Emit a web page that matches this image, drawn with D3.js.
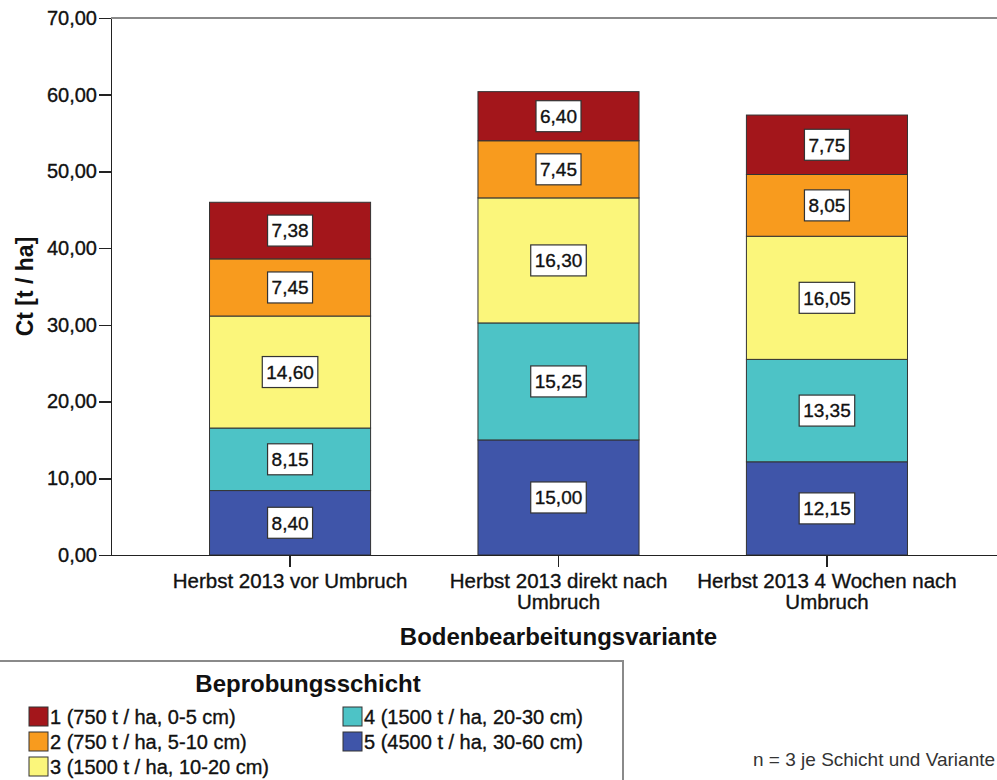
<!DOCTYPE html>
<html lang="de">
<head>
<meta charset="UTF-8">
<title>Ct je Beprobungsschicht</title>
<script src="https://d3js.org/d3.v7.min.js"></script>
<style>
    body { margin: 0; background: #fff; }
    svg { display: block; font-family: Arial, "Liberation Sans", sans-serif; }
    .axis path, .axis line { stroke: #222; stroke-width: 1.5; shape-rendering: crispEdges; }
    .axis text { fill: #111; }
    .heavy { stroke: #111; stroke-width: 0.35px; }
</style>
</head>
<body>
<script>
// categories (x axis)
const categories = ["Herbst 2013 vor Umbruch", "Herbst 2013 direkt nach Umbruch", "Herbst 2013 4 Wochen nach Umbruch"];

// layer names (legend) and values per category
const layerKeys = ["1", "2", "3", "4", "5"];
const layerNames = ["1 (750 t / ha, 0-5 cm)", "2 (750 t / ha, 5-10 cm)", "3 (1500 t / ha, 10-20 cm)",
                    "4 (1500 t / ha, 20-30 cm)", "5 (4500 t / ha, 30-60 cm)"];
const layer1 = [7.38, 6.40, 7.75];
const layer2 = [7.45, 7.45, 8.05];
const layer3 = [14.60, 16.30, 16.05];
const layer4 = [8.15, 15.25, 13.35];
const layer5 = [8.40, 15.00, 12.15];
const layerColors = ["#a3161b", "#f89b1e", "#fbf67b", "#4dc3c6", "#3f55a9"];

const yTicks = [0, 10, 20, 30, 40, 50, 60, 70];

// build table
const layerValues = [layer1, layer2, layer3, layer4, layer5];
const table = categories.map((c, i) => {
    const row = {cat: c};
    layerKeys.forEach((k, j) => row[k] = layerValues[j][i]);
    return row;
});

const W = 997, H = 780;
const plot = {left: 111, top: 18, right: 1006, bottom: 555};

const de = d3.formatLocale({decimal: ",", thousands: ".", grouping: [3], currency: ["", " €"]});
const fmt = de.format(".2f");

const svg = d3.select("body").append("svg")
    .attr("width", W)
    .attr("height", H);

const x = d3.scaleBand()
    .domain(categories)
    .range([plot.left, plot.right])
    .paddingInner(0.4)
    .paddingOuter(0.367);

const y = d3.scaleLinear()
    .domain([0, 70])
    .range([plot.bottom, plot.top]);

const color = d3.scaleOrdinal().domain(layerKeys).range(layerColors);

// frame (top / right)
svg.append("path")
    .attr("d", `M${plot.left},${plot.top}H${plot.right}V${plot.bottom}`)
    .attr("fill", "none")
    .attr("stroke", "#8a8a8a")
    .attr("stroke-width", 2);

// stacked bars, layer 5 at the bottom
const stack = d3.stack().keys(layerKeys.slice().reverse());
const series = stack(table);

const groups = svg.append("g").selectAll("g")
    .data(series)
    .join("g")
    .attr("fill", d => color(d.key));

groups.selectAll("rect")
    .data(d => d)
    .join("rect")
    .attr("x", d => x(d.data.cat))
    .attr("width", x.bandwidth())
    .attr("y", d => y(d[1]))
    .attr("height", d => y(d[0]) - y(d[1]))
    .attr("stroke", "#333")
    .attr("stroke-width", 1);

// value labels, box sized to text
const labels = svg.append("g").selectAll("g")
    .data(series.flatMap(s => s.map(d => ({v: d[1] - d[0], d}))))
    .join("g")
    .attr("transform", o => `translate(${x(o.d.data.cat) + x.bandwidth() / 2},${(y(o.d[0]) + y(o.d[1])) / 2})`);

const boxes = labels.append("rect")
    .attr("y", -15.5)
    .attr("height", 31)
    .attr("fill", "#fff")
    .attr("stroke", "#333")
    .attr("stroke-width", 1.2);

labels.append("text")
    .attr("class", "heavy")
    .attr("text-anchor", "middle")
    .attr("dy", "0.36em")
    .attr("font-size", 19)
    .attr("fill", "#111")
    .text(o => fmt(o.v))
    .each(function() {
        const w = this.getComputedTextLength() + 8;
        d3.select(this.parentNode).select("rect").attr("x", -w / 2).attr("width", w);
    });

// y axis
const yAxis = svg.append("g")
    .attr("class", "axis")
    .attr("transform", `translate(${plot.left},0)`)
    .call(d3.axisLeft(y).tickValues(yTicks).tickFormat(fmt).tickSize(12).tickSizeOuter(0).tickPadding(2));
yAxis.selectAll("text").attr("font-size", 20).attr("class", "heavy");

// x axis
const xAxis = svg.append("g")
    .attr("class", "axis")
    .attr("transform", `translate(0,${plot.bottom})`)
    .call(d3.axisBottom(x).tickSize(12).tickSizeOuter(0).tickPadding(6));
xAxis.selectAll("text")
    .attr("font-size", 20.5)
    .attr("class", "heavy")
    .each(function(t) {
        const el = d3.select(this);
        const words = t.split(" ");
        el.text(null);
        let line = [];
        let tspan = el.append("tspan").attr("x", 0).attr("dy", "0.71em");
        words.forEach(w => {
            line.push(w);
            tspan.text(line.join(" "));
            if (tspan.node().getComputedTextLength() > 275 && line.length > 1) {
                line.pop();
                tspan.text(line.join(" "));
                line = [w];
                tspan = el.append("tspan").attr("x", 0).attr("dy", "1.05em").text(w);
            }
        });
    });

// axis titles
svg.append("text")
    .attr("x", (plot.left + 1006) / 2)
    .attr("y", 645)
    .attr("text-anchor", "middle")
    .attr("font-size", 24)
    .attr("font-weight", "bold")
    .attr("fill", "#111")
    .text("Bodenbearbeitungsvariante");

svg.append("text")
    .attr("transform", `translate(33,${(plot.top + plot.bottom) / 2}) rotate(-90)`)
    .attr("text-anchor", "middle")
    .attr("font-size", 23)
    .attr("font-weight", "bold")
    .attr("fill", "#111")
    .text("Ct [t / ha]");

// legend
const legend = svg.append("g");
legend.append("rect")
    .attr("x", -1).attr("y", 661)
    .attr("width", 624).attr("height", 160)
    .attr("fill", "#fff")
    .attr("stroke", "#8a8a8a")
    .attr("stroke-width", 2);

legend.append("text")
    .attr("x", 308).attr("y", 692)
    .attr("text-anchor", "middle")
    .attr("font-size", 24)
    .attr("font-weight", "bold")
    .attr("fill", "#111")
    .text("Beprobungsschicht");

const items = legend.selectAll("g.item")
    .data(layerKeys)
    .join("g")
    .attr("class", "item")
    .attr("transform", (k, i) => `translate(${i < 3 ? 29 : 343},${707 + (i % 3) * 25})`);

items.append("rect")
    .attr("width", 19).attr("height", 19)
    .attr("fill", k => color(k))
    .attr("stroke", "#333")
    .attr("stroke-width", 1);

items.append("text")
    .attr("class", "heavy")
    .attr("x", 21).attr("y", 9.5)
    .attr("dy", "0.36em")
    .attr("font-size", 20)
    .attr("fill", "#111")
    .text((k, i) => layerNames[i]);

// note
svg.append("text")
    .attr("x", 753).attr("y", 766)
    .attr("font-size", 19)
    .attr("fill", "#333")
    .text("n = 3 je Schicht und Variante");
</script>
</body>
</html>
